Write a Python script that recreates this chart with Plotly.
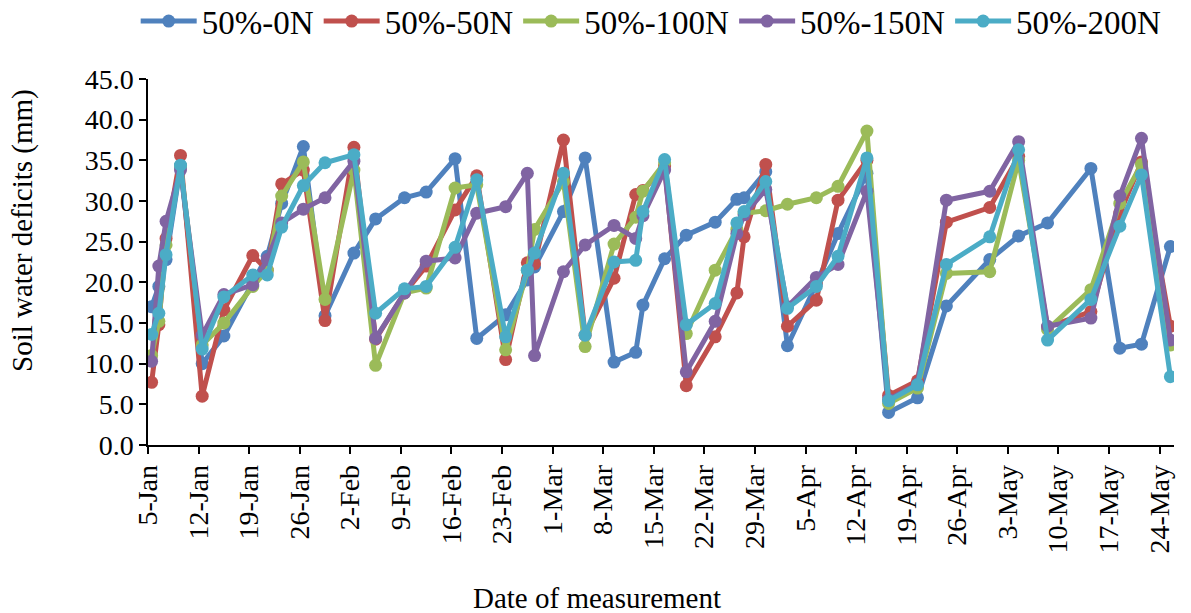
import pandas as pd
import plotly.graph_objects as go

# Measurement dates (2016)
dates = [
    "2016-01-05", "2016-01-06", "2016-01-07", "2016-01-09", "2016-01-12",
    "2016-01-15", "2016-01-19", "2016-01-21", "2016-01-23", "2016-01-26",
    "2016-01-29", "2016-02-02", "2016-02-05", "2016-02-09", "2016-02-12",
    "2016-02-16", "2016-02-19", "2016-02-23", "2016-02-26", "2016-02-27",
    "2016-03-02", "2016-03-05", "2016-03-09", "2016-03-12", "2016-03-13",
    "2016-03-16", "2016-03-19", "2016-03-23", "2016-03-26", "2016-03-27",
    "2016-03-30", "2016-04-02", "2016-04-06", "2016-04-09", "2016-04-13",
    "2016-04-16", "2016-04-20", "2016-04-24", "2016-04-30", "2016-05-04",
    "2016-05-08", "2016-05-14", "2016-05-18", "2016-05-21", "2016-05-25",
]

# Soil water deficits (mm) per treatment
swd_0n = [17.0, 19.5, 22.8, 34.3, 10.0, 13.4, 20.0, 23.2, 29.7, 36.7,
          15.9, 23.6, 27.8, 30.4, 31.1, 35.2, 13.1, 16.0, 20.3, 21.9,
          28.7, 35.3, 10.2, 11.4, 17.2, 22.9, 25.8, 27.4, 30.2, 30.4,
          33.6, 12.2, 19.8, 26.0, 33.4, 4.0, 5.8, 17.1, 22.8, 25.7,
          27.3, 34.0, 11.9, 12.4, 24.4]
swd_50n = [7.7, 14.8, 25.4, 35.6, 6.0, 16.6, 23.3, 21.5, 32.1, 33.8,
           15.3, 36.6, 13.0, 18.7, 22.0, 28.9, 33.1, 10.5, 22.4, 22.3,
           37.5, 13.5, 20.5, 30.8, 31.3, 34.3, 7.3, 13.3, 18.7, 25.6,
           34.5, 14.6, 17.8, 30.1, 35.0, 6.1, 7.9, 27.4, 29.2, 35.5,
           14.5, 16.4, 28.5, 34.8, 14.6]
swd_100n = [11.0, 15.2, 24.6, 34.3, 12.3, 15.0, 19.5, 21.5, 30.6, 34.8,
            17.9, 33.8, 9.8, 18.7, 19.3, 31.6, 32.0, 11.7, 21.5, 26.5,
            32.4, 12.1, 24.7, 28.0, 31.2, 34.7, 13.7, 21.5, 26.5, 28.5,
            28.8, 29.6, 30.4, 31.8, 38.6, 5.1, 7.0, 21.1, 21.3, 35.0,
            14.2, 19.1, 29.7, 34.5, 12.3]
swd_150n = [10.3, 22.0, 27.5, 33.8, 13.5, 18.5, 19.7, 22.8, 27.3, 29.0,
            30.4, 34.9, 13.1, 18.7, 22.6, 23.0, 28.5, 29.3, 33.4, 11.0,
            21.3, 24.6, 27.0, 25.4, 28.2, 33.8, 9.0, 15.2, 26.0, 28.3,
            31.4, 17.0, 20.6, 22.2, 31.2, 5.6, 7.5, 30.1, 31.2, 37.3,
            14.6, 15.6, 30.6, 37.7, 12.9]
swd_200n = [13.6, 16.2, 23.4, 34.4, 11.8, 18.2, 20.9, 20.9, 26.8, 31.9,
            34.7, 35.7, 16.2, 19.2, 19.5, 24.3, 32.6, 13.3, 21.5, 23.6,
            33.4, 13.5, 22.5, 22.7, 28.7, 35.1, 14.8, 17.4, 27.3, 28.7,
            32.4, 16.8, 19.5, 23.2, 35.3, 5.45, 7.4, 22.2, 25.6, 36.3,
            12.9, 17.9, 26.9, 33.2, 8.4]

series_names = ["50%-0N", "50%-50N", "50%-100N", "50%-150N", "50%-200N"]
series_values = [swd_0n, swd_50n, swd_100n, swd_150n, swd_200n]
colors = ["#4F81BD", "#C0504D", "#9BBB59", "#8064A2", "#4BACC6"]

# readings sit in the middle of their day slot between weekly ticks
x_vals = pd.to_datetime(dates) + pd.Timedelta(hours=12)

FONT = "Liberation Serif, Times New Roman, serif"

fig = go.Figure()
for name, vals, col in zip(series_names, series_values, colors):
    fig.add_trace(go.Scatter(
        x=x_vals, y=vals, name=name, mode="lines+markers",
        line=dict(color=col, width=5),
        marker=dict(color=col, size=13),
    ))

week_ms = 7 * 24 * 3600 * 1000

fig.update_layout(
    width=1191, height=613,
    margin=dict(l=148, r=17, t=79, b=168, autoexpand=False),
    paper_bgcolor="white", plot_bgcolor="white",
    font=dict(family=FONT, color="black", size=28),
    showlegend=True,
    legend=dict(
        orientation="h", x=-0.012, y=1.158, xanchor="left", yanchor="middle",
        font=dict(family=FONT, size=33, color="black"),
        itemwidth=56, tracegroupgap=0, bgcolor="rgba(0,0,0,0)",
    ),
    xaxis=dict(
        type="date", range=["2016-01-05", "2016-05-26"],
        tick0="2016-01-05", dtick=week_ms, tickformat="%-d-%b",
        tickangle=-90, ticks="outside", ticklen=7, tickwidth=1.5,
        tickcolor="black", showline=True, linecolor="black", linewidth=1.5,
        showgrid=False, zeroline=False, automargin=False,
        tickfont=dict(family=FONT, size=28, color="black"),
    ),
    yaxis=dict(
        range=[0, 45], dtick=5, tick0=0, tickformat=".1f",
        ticks="outside", ticklen=7, tickwidth=1.5, tickcolor="black",
        showline=True, linecolor="black", linewidth=1.5,
        showgrid=False, zeroline=False, automargin=False,
        tickfont=dict(family=FONT, size=28, color="black"),
    ),
    annotations=[
        dict(text="Soil water deficits (mm)", textangle=-90,
             xref="paper", yref="paper", x=-0.123, y=0.587,
             xanchor="center", yanchor="middle", showarrow=False,
             font=dict(family=FONT, size=29, color="black")),
        dict(text="Date of measurement",
             xref="paper", yref="paper", x=0.4376, y=-0.418,
             xanchor="center", yanchor="middle", showarrow=False,
             font=dict(family=FONT, size=29, color="black")),
    ],
)

fig.write_html("out.html")
